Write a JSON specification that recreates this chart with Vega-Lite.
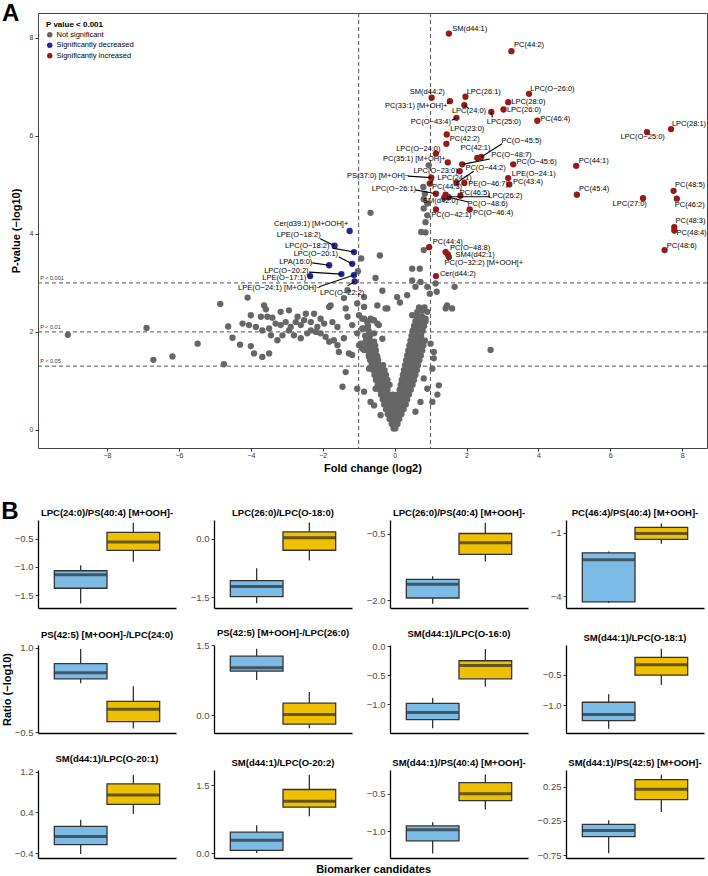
{
"$schema": "https://vega.github.io/schema/vega-lite/v6.json",
"background": "white",
"padding": {"left": 1, "top": 1, "right": 0, "bottom": 0},
"datasets": {
"thresholds": [{"label": "P < 0.001", "p": 3}, {"label": "P < 0.01", "p": 2}, {"label": "P < 0.05", "p": 1.301}],
"fcLines": [{"fc": -1}, {"fc": 1}],
"volcano": [
{"fc":-9.09,"p":1.94,"status":"Not significant"},{"fc":-6.90,"p":2.08,"status":"Not significant"},{"fc":-6.71,"p":1.43,"status":"Not significant"},{"fc":-6.18,"p":1.50,"status":"Not significant"},{"fc":-5.48,"p":1.76,"status":"Not significant"},{"fc":-4.75,"p":1.34,"status":"Not significant"},{"fc":-4.85,"p":2.57,"status":"Not significant"},{"fc":-4.63,"p":2.11,"status":"Not significant"},{"fc":-4.51,"p":1.88,"status":"Not significant"},{"fc":-4.30,"p":1.74,"status":"Not significant"},{"fc":-4.09,"p":2.70,"status":"Not significant"},
{"fc":-3.63,"p":2.54,"status":"Not significant"},{"fc":-3.58,"p":2.46,"status":"Not significant"},{"fc":-4.0,"p":2.34,"status":"Not significant"},{"fc":-3.72,"p":2.31,"status":"Not significant"},{"fc":-3.54,"p":2.31,"status":"Not significant"},{"fc":-3.40,"p":2.29,"status":"Not significant"},{"fc":-3.17,"p":2.41,"status":"Not significant"},{"fc":-2.94,"p":2.44,"status":"Not significant"},{"fc":-2.70,"p":2.31,"status":"Not significant"},{"fc":-2.47,"p":2.37,"status":"Not significant"},{"fc":-2.24,"p":2.37,"status":"Not significant"},{"fc":-2.06,"p":2.27,"status":"Not significant"},{"fc":-1.82,"p":2.51,"status":"Not significant"},{"fc":-1.78,"p":2.54,"status":"Not significant"},{"fc":-1.36,"p":2.48,"status":"Not significant"},{"fc":-1.31,"p":2.31,"status":"Not significant"},
{"fc":-4.23,"p":2.17,"status":"Not significant"},{"fc":-4.05,"p":2.14,"status":"Not significant"},{"fc":-3.86,"p":2.10,"status":"Not significant"},{"fc":-3.68,"p":2.03,"status":"Not significant"},{"fc":-3.49,"p":2.07,"status":"Not significant"},{"fc":-3.31,"p":2.17,"status":"Not significant"},{"fc":-3.17,"p":2.14,"status":"Not significant"},{"fc":-3.03,"p":2.20,"status":"Not significant"},{"fc":-2.89,"p":2.10,"status":"Not significant"},{"fc":-2.75,"p":2.20,"status":"Not significant"},{"fc":-2.61,"p":2.14,"status":"Not significant"},{"fc":-2.52,"p":2.24,"status":"Not significant"},{"fc":-2.33,"p":2.20,"status":"Not significant"},{"fc":-2.15,"p":2.10,"status":"Not significant"},{"fc":-1.96,"p":2.17,"status":"Not significant"},{"fc":-1.73,"p":2.20,"status":"Not significant"},{"fc":-1.59,"p":2.10,"status":"Not significant"},
{"fc":-4.0,"p":1.71,"status":"Not significant"},{"fc":-3.91,"p":1.56,"status":"Not significant"},{"fc":-3.68,"p":1.49,"status":"Not significant"},{"fc":-3.49,"p":1.56,"status":"Not significant"},{"fc":-3.44,"p":1.93,"status":"Not significant"},{"fc":-3.26,"p":1.83,"status":"Not significant"},{"fc":-3.12,"p":1.93,"status":"Not significant"},{"fc":-2.94,"p":2.03,"status":"Not significant"},{"fc":-2.80,"p":1.93,"status":"Not significant"},{"fc":-2.61,"p":1.87,"status":"Not significant"},{"fc":-2.43,"p":1.97,"status":"Not significant"},{"fc":-2.33,"p":2.03,"status":"Not significant"},{"fc":-2.19,"p":2.0,"status":"Not significant"},{"fc":-2.06,"p":1.97,"status":"Not significant"},{"fc":-1.92,"p":1.90,"status":"Not significant"},{"fc":-1.82,"p":1.80,"status":"Not significant"},{"fc":-1.69,"p":1.83,"status":"Not significant"},{"fc":-1.59,"p":1.73,"status":"Not significant"},{"fc":-1.55,"p":1.59,"status":"Not significant"},{"fc":-1.41,"p":1.87,"status":"Not significant"},{"fc":-1.27,"p":1.56,"status":"Not significant"},{"fc":-1.18,"p":1.53,"status":"Not significant"},{"fc":-1.45,"p":0.88,"status":"Not significant"},{"fc":-1.36,"p":1.18,"status":"Not significant"},
{"fc":-1.31,"p":2.85,"status":"Not significant"},{"fc":-1.41,"p":2.69,"status":"Not significant"},{"fc":-1.04,"p":2.58,"status":"Not significant"},{"fc":-0.99,"p":2.34,"status":"Not significant"},{"fc":-0.85,"p":2.27,"status":"Not significant"},{"fc":-1.18,"p":2.14,"status":"Not significant"},{"fc":-1.04,"p":1.97,"status":"Not significant"},{"fc":-0.85,"p":2.07,"status":"Not significant"},{"fc":-0.76,"p":2.20,"status":"Not significant"},{"fc":-0.57,"p":2.24,"status":"Not significant"},{"fc":-0.44,"p":2.14,"status":"Not significant"},{"fc":-0.94,"p":1.76,"status":"Not significant"},{"fc":-0.90,"p":1.66,"status":"Not significant"},{"fc":-0.71,"p":1.49,"status":"Not significant"},{"fc":-0.76,"p":1.83,"status":"Not significant"},{"fc":-0.57,"p":1.80,"status":"Not significant"},{"fc":-1.02,"p":3.24,"status":"Not significant"},{"fc":-0.85,"p":2.71,"status":"Not significant"},
{"fc":0.95,"p":5.40,"status":"Not significant"},{"fc":0.80,"p":4.96,"status":"Not significant"},{"fc":0.84,"p":4.82,"status":"Not significant"},{"fc":0.81,"p":4.71,"status":"Not significant"},{"fc":0.91,"p":4.62,"status":"Not significant"},{"fc":0.81,"p":4.52,"status":"Not significant"},{"fc":0.91,"p":4.38,"status":"Not significant"},{"fc":0.74,"p":4.04,"status":"Not significant"},{"fc":0.86,"p":4.03,"status":"Not significant"},{"fc":0.81,"p":3.67,"status":"Not significant"},{"fc":-0.67,"p":4.43,"status":"Not significant"},{"fc":0.86,"p":4.24,"status":"Not significant"},{"fc":-0.93,"p":3.50,"status":"Not significant"},{"fc":-0.41,"p":3.56,"status":"Not significant"},{"fc":-0.53,"p":3.10,"status":"Not significant"},{"fc":0.49,"p":3.29,"status":"Not significant"},{"fc":0.70,"p":3.29,"status":"Not significant"},{"fc":0.49,"p":3.05,"status":"Not significant"},{"fc":0.72,"p":3.02,"status":"Not significant"},{"fc":0.58,"p":2.92,"status":"Not significant"},{"fc":0.91,"p":2.92,"status":"Not significant"},{"fc":-0.34,"p":2.84,"status":"Not significant"},{"fc":0.07,"p":2.71,"status":"Not significant"},{"fc":0.35,"p":2.75,"status":"Not significant"},{"fc":1.14,"p":2.99,"status":"Not significant"},{"fc":1.17,"p":2.82,"status":"Not significant"},{"fc":0.98,"p":2.78,"status":"Not significant"},{"fc":1.67,"p":2.92,"status":"Not significant"},{"fc":1.46,"p":2.54,"status":"Not significant"},{"fc":1.60,"p":2.48,"status":"Not significant"},{"fc":1.42,"p":2.48,"status":"Not significant"},{"fc":2.67,"p":1.63,"status":"Not significant"},{"fc":0.49,"p":2.34,"status":"Not significant"},{"fc":0.63,"p":2.41,"status":"Not significant"},{"fc":0.77,"p":2.44,"status":"Not significant"},{"fc":0.91,"p":2.41,"status":"Not significant"},{"fc":0.86,"p":2.27,"status":"Not significant"},{"fc":1.09,"p":1.59,"status":"Not significant"},{"fc":1.09,"p":1.46,"status":"Not significant"},{"fc":1.0,"p":1.76,"status":"Not significant"},{"fc":1.05,"p":1.25,"status":"Not significant"},{"fc":1.23,"p":0.91,"status":"Not significant"},{"fc":0.81,"p":1.05,"status":"Not significant"},{"fc":0.91,"p":0.84,"status":"Not significant"},{"fc":0.72,"p":0.57,"status":"Not significant"},{"fc":0.58,"p":0.37,"status":"Not significant"},{"fc":-1.04,"p":0.84,"status":"Not significant"},{"fc":-0.85,"p":0.78,"status":"Not significant"},{"fc":-0.71,"p":1.25,"status":"Not significant"},{"fc":-0.57,"p":0.50,"status":"Not significant"},{"fc":-0.85,"p":2.51,"status":"Not significant"},{"fc":-0.90,"p":2.27,"status":"Not significant"},{"fc":-0.90,"p":2.07,"status":"Not significant"},{"fc":-0.62,"p":2.24,"status":"Not significant"},{"fc":-0.48,"p":2.17,"status":"Not significant"},{"fc":-0.99,"p":1.73,"status":"Not significant"},{"fc":-0.85,"p":1.63,"status":"Not significant"},{"fc":-0.2,"p":2.48,"status":"Not significant"},{"fc":0.15,"p":2.6,"status":"Not significant"},{"fc":-0.67,"p":2.27,"status":"Not significant"},{"fc":-0.48,"p":2.54,"status":"Not significant"},{"fc":-0.25,"p":2.48,"status":"Not significant"},{"fc":-0.57,"p":1.97,"status":"Not significant"},{"fc":-0.34,"p":1.86,"status":"Not significant"},{"fc":-0.71,"p":1.66,"status":"Not significant"},{"fc":-0.48,"p":1.49,"status":"Not significant"},{"fc":-0.67,"p":0.57,"status":"Not significant"},{"fc":-0.39,"p":0.30,"status":"Not significant"},{"fc":-0.53,"p":0.84,"status":"Not significant"},{"fc":1.19,"p":0.72,"status":"Not significant"},{"fc":1.05,"p":0.57,"status":"Not significant"},
{"fc":-0.03,"p":0.03,"status":"Not significant"},{"fc":0.02,"p":0.03,"status":"Not significant"},
{"fc":-0.08,"p":0.12,"status":"Not significant"},{"fc":0.0,"p":0.12,"status":"Not significant"},{"fc":0.08,"p":0.12,"status":"Not significant"},
{"fc":-0.14,"p":0.22,"status":"Not significant"},{"fc":-0.05,"p":0.22,"status":"Not significant"},{"fc":0.05,"p":0.22,"status":"Not significant"},{"fc":0.13,"p":0.22,"status":"Not significant"},
{"fc":-0.19,"p":0.32,"status":"Not significant"},{"fc":-0.09,"p":0.32,"status":"Not significant"},{"fc":0.01,"p":0.32,"status":"Not significant"},{"fc":0.1,"p":0.32,"status":"Not significant"},{"fc":0.19,"p":0.32,"status":"Not significant"},
{"fc":-0.24,"p":0.42,"status":"Not significant"},{"fc":-0.14,"p":0.42,"status":"Not significant"},{"fc":-0.04,"p":0.42,"status":"Not significant"},{"fc":0.06,"p":0.42,"status":"Not significant"},{"fc":0.16,"p":0.42,"status":"Not significant"},{"fc":0.25,"p":0.42,"status":"Not significant"},
{"fc":-0.29,"p":0.52,"status":"Not significant"},{"fc":-0.19,"p":0.52,"status":"Not significant"},{"fc":-0.08,"p":0.52,"status":"Not significant"},{"fc":0.03,"p":0.52,"status":"Not significant"},{"fc":0.13,"p":0.52,"status":"Not significant"},{"fc":0.23,"p":0.52,"status":"Not significant"},{"fc":0.31,"p":0.52,"status":"Not significant"},
{"fc":-0.33,"p":0.62,"status":"Not significant"},{"fc":-0.23,"p":0.62,"status":"Not significant"},{"fc":-0.12,"p":0.62,"status":"Not significant"},{"fc":0.0,"p":0.62,"status":"Not significant"},{"fc":0.12,"p":0.62,"status":"Not significant"},{"fc":0.24,"p":0.62,"status":"Not significant"},{"fc":0.35,"p":0.62,"status":"Not significant"},
{"fc":-0.38,"p":0.72,"status":"Not significant"},{"fc":-0.27,"p":0.72,"status":"Not significant"},{"fc":-0.16,"p":0.72,"status":"Not significant"},{"fc":-0.05,"p":0.72,"status":"Not significant"},{"fc":0.08,"p":0.72,"status":"Not significant"},{"fc":0.19,"p":0.72,"status":"Not significant"},{"fc":0.3,"p":0.72,"status":"Not significant"},{"fc":0.4,"p":0.72,"status":"Not significant"},
{"fc":-0.42,"p":0.82,"status":"Not significant"},{"fc":-0.31,"p":0.82,"status":"Not significant"},{"fc":-0.2,"p":0.82,"status":"Not significant"},{"fc":0.14,"p":0.82,"status":"Not significant"},{"fc":0.25,"p":0.82,"status":"Not significant"},{"fc":0.35,"p":0.82,"status":"Not significant"},{"fc":0.45,"p":0.82,"status":"Not significant"},
{"fc":-0.47,"p":0.92,"status":"Not significant"},{"fc":-0.36,"p":0.92,"status":"Not significant"},{"fc":-0.25,"p":0.92,"status":"Not significant"},{"fc":-0.14,"p":0.92,"status":"Not significant"},{"fc":0.17,"p":0.92,"status":"Not significant"},{"fc":0.28,"p":0.92,"status":"Not significant"},{"fc":0.39,"p":0.92,"status":"Not significant"},{"fc":0.5,"p":0.92,"status":"Not significant"},
{"fc":-0.52,"p":1.02,"status":"Not significant"},{"fc":-0.41,"p":1.02,"status":"Not significant"},{"fc":-0.3,"p":1.02,"status":"Not significant"},{"fc":-0.2,"p":1.02,"status":"Not significant"},{"fc":0.2,"p":1.02,"status":"Not significant"},{"fc":0.31,"p":1.02,"status":"Not significant"},{"fc":0.42,"p":1.02,"status":"Not significant"},{"fc":0.54,"p":1.02,"status":"Not significant"},
{"fc":-0.56,"p":1.12,"status":"Not significant"},{"fc":-0.45,"p":1.12,"status":"Not significant"},{"fc":-0.34,"p":1.12,"status":"Not significant"},{"fc":-0.24,"p":1.12,"status":"Not significant"},{"fc":0.23,"p":1.12,"status":"Not significant"},{"fc":0.34,"p":1.12,"status":"Not significant"},{"fc":0.46,"p":1.12,"status":"Not significant"},{"fc":0.58,"p":1.12,"status":"Not significant"},
{"fc":-0.6,"p":1.22,"status":"Not significant"},{"fc":-0.49,"p":1.22,"status":"Not significant"},{"fc":-0.38,"p":1.22,"status":"Not significant"},{"fc":-0.28,"p":1.22,"status":"Not significant"},{"fc":0.26,"p":1.22,"status":"Not significant"},{"fc":0.37,"p":1.22,"status":"Not significant"},{"fc":0.49,"p":1.22,"status":"Not significant"},{"fc":0.62,"p":1.22,"status":"Not significant"},
{"fc":-0.64,"p":1.32,"status":"Not significant"},{"fc":-0.53,"p":1.32,"status":"Not significant"},{"fc":-0.42,"p":1.32,"status":"Not significant"},{"fc":-0.32,"p":1.32,"status":"Not significant"},{"fc":0.29,"p":1.32,"status":"Not significant"},{"fc":0.4,"p":1.32,"status":"Not significant"},{"fc":0.52,"p":1.32,"status":"Not significant"},{"fc":0.65,"p":1.32,"status":"Not significant"},
{"fc":-0.68,"p":1.42,"status":"Not significant"},{"fc":-0.57,"p":1.42,"status":"Not significant"},{"fc":-0.46,"p":1.42,"status":"Not significant"},{"fc":0.32,"p":1.42,"status":"Not significant"},{"fc":0.44,"p":1.42,"status":"Not significant"},{"fc":0.56,"p":1.42,"status":"Not significant"},{"fc":0.69,"p":1.42,"status":"Not significant"},
{"fc":-0.72,"p":1.52,"status":"Not significant"},{"fc":-0.61,"p":1.52,"status":"Not significant"},{"fc":-0.5,"p":1.52,"status":"Not significant"},{"fc":0.35,"p":1.52,"status":"Not significant"},{"fc":0.47,"p":1.52,"status":"Not significant"},{"fc":0.6,"p":1.52,"status":"Not significant"},{"fc":0.73,"p":1.52,"status":"Not significant"},
{"fc":-0.75,"p":1.62,"status":"Not significant"},{"fc":-0.64,"p":1.62,"status":"Not significant"},{"fc":-0.52,"p":1.62,"status":"Not significant"},{"fc":0.38,"p":1.62,"status":"Not significant"},{"fc":0.51,"p":1.62,"status":"Not significant"},{"fc":0.64,"p":1.62,"status":"Not significant"},{"fc":0.77,"p":1.62,"status":"Not significant"},
{"fc":-0.78,"p":1.72,"status":"Not significant"},{"fc":-0.66,"p":1.72,"status":"Not significant"},{"fc":-0.54,"p":1.72,"status":"Not significant"},{"fc":0.41,"p":1.72,"status":"Not significant"},{"fc":0.54,"p":1.72,"status":"Not significant"},{"fc":0.67,"p":1.72,"status":"Not significant"},{"fc":0.8,"p":1.72,"status":"Not significant"},
{"fc":-0.8,"p":1.82,"status":"Not significant"},{"fc":-0.68,"p":1.82,"status":"Not significant"},{"fc":0.44,"p":1.82,"status":"Not significant"},{"fc":0.57,"p":1.82,"status":"Not significant"},{"fc":0.7,"p":1.82,"status":"Not significant"},{"fc":0.84,"p":1.82,"status":"Not significant"},
{"fc":-0.82,"p":1.92,"status":"Not significant"},{"fc":-0.69,"p":1.92,"status":"Not significant"},{"fc":0.47,"p":1.92,"status":"Not significant"},{"fc":0.6,"p":1.92,"status":"Not significant"},{"fc":0.74,"p":1.92,"status":"Not significant"},
{"fc":-0.72,"p":2.02,"status":"Not significant"},{"fc":0.5,"p":2.02,"status":"Not significant"},{"fc":0.63,"p":2.02,"status":"Not significant"},{"fc":0.78,"p":2.02,"status":"Not significant"},
{"fc":-0.74,"p":2.12,"status":"Not significant"},{"fc":0.54,"p":2.12,"status":"Not significant"},{"fc":0.67,"p":2.12,"status":"Not significant"},{"fc":0.82,"p":2.12,"status":"Not significant"},
{"fc":0.58,"p":2.22,"status":"Not significant"},{"fc":0.71,"p":2.22,"status":"Not significant"},{"fc":0.86,"p":2.22,"status":"Not significant"},
{"fc":0.62,"p":2.32,"status":"Not significant"},{"fc":0.76,"p":2.32,"status":"Not significant"},
{"fc":0.68,"p":2.5,"status":"Not significant"},{"fc":0.83,"p":2.5,"status":"Not significant"},
{"name":"SM(d44:1)","fc":1.51,"p":8.09,"lx":2.09,"ly":8.18,"status":"Significantly increased"},
{"name":"PC(44:2)","fc":3.25,"p":7.73,"lx":3.74,"ly":7.85,"status":"Significantly increased"},
{"name":"SM(d44:2)","fc":1.03,"p":6.78,"lx":0.91,"ly":6.90,"status":"Significantly increased"},
{"name":"LPC(26:1)","fc":1.97,"p":6.80,"lx":2.48,"ly":6.90,"status":"Significantly increased"},
{"name":"LPC(O−26:0)","fc":3.74,"p":6.86,"lx":4.39,"ly":6.96,"status":"Significantly increased"},
{"name":"PC(33:1) [M+OH]+","fc":1.54,"p":6.71,"lx":0.60,"ly":6.61,"sx":1.46,"sy":6.66,"status":"Significantly increased"},
{"name":"LPC(28:0)","fc":3.16,"p":6.69,"lx":3.72,"ly":6.69,"status":"Significantly increased"},
{"name":"LPC(24:0)","fc":1.94,"p":6.63,"lx":2.07,"ly":6.50,"sx":2.06,"sy":6.56,"status":"Significantly increased"},
{"name":"LPC(26:0)","fc":3.03,"p":6.54,"lx":3.60,"ly":6.54,"status":"Significantly increased"},
{"name":"LPC(25:0)","fc":2.69,"p":6.49,"lx":3.04,"ly":6.29,"sx":2.72,"sy":6.38,"status":"Significantly increased"},
{"name":"PC(O−43:4)","fc":1.72,"p":6.37,"lx":1.01,"ly":6.29,"sx":1.59,"sy":6.32,"status":"Significantly increased"},
{"name":"PC(46:4)","fc":3.97,"p":6.31,"lx":4.47,"ly":6.34,"status":"Significantly increased"},
{"name":"LPC(23:0)","fc":1.45,"p":6.03,"lx":2.02,"ly":6.14,"status":"Significantly increased"},
{"name":"PC(42:2)","fc":1.44,"p":5.84,"lx":1.95,"ly":5.93,"status":"Significantly increased"},
{"name":"LPC(O−24:0)","fc":1.15,"p":5.64,"lx":0.66,"ly":5.74,"status":"Significantly increased"},
{"name":"PC(42:1)","fc":2.30,"p":5.55,"lx":2.25,"ly":5.76,"status":"Significantly increased"},
{"name":"PC(O−45:5)","fc":2.41,"p":5.57,"lx":3.53,"ly":5.89,"sx":2.99,"sy":5.84,"status":"Significantly increased"},
{"name":"PC(35:1) [M+OH]+","fc":1.48,"p":5.46,"lx":0.55,"ly":5.52,"status":"Significantly increased"},
{"name":"PC(O−48:7)","fc":1.88,"p":5.42,"lx":3.25,"ly":5.62,"sx":2.65,"sy":5.53,"status":"Significantly increased"},
{"name":"PC(O−45:6)","fc":3.30,"p":5.42,"lx":3.95,"ly":5.46,"status":"Significantly increased"},
{"name":"PC(44:1)","fc":5.05,"p":5.39,"lx":5.54,"ly":5.48,"status":"Significantly increased"},
{"name":"LPC(O−23:0)","fc":1.81,"p":5.28,"lx":1.14,"ly":5.28,"status":"Significantly increased"},
{"name":"PC(O−44:2)","fc":1.72,"p":5.04,"lx":2.53,"ly":5.34,"sx":2.20,"sy":5.28,"status":"Significantly increased"},
{"name":"PS(37:0) [M+OH]−","fc":1.02,"p":5.15,"lx":-0.46,"ly":5.19,"sx":0.37,"sy":5.18,"status":"Significantly increased"},
{"name":"LPE(O−24:1)","fc":3.16,"p":5.14,"lx":3.87,"ly":5.22,"status":"Significantly increased"},
{"name":"LPC(24:1)","fc":0.98,"p":5.03,"lx":1.67,"ly":5.15,"sx":1.08,"sy":5.10,"status":"Significantly increased"},
{"name":"PE(O−46:7)","fc":1.94,"p":5.04,"lx":2.60,"ly":5.01,"status":"Significantly increased"},
{"name":"PC(43:4)","fc":3.19,"p":5.01,"lx":3.71,"ly":5.05,"status":"Significantly increased"},
{"name":"PC(45:4)","fc":5.07,"p":4.80,"lx":5.55,"ly":4.91,"status":"Significantly increased"},
{"name":"PC(48:5)","fc":7.76,"p":4.88,"lx":8.22,"ly":4.99,"status":"Significantly increased"},
{"name":"LPC(27:0)","fc":6.91,"p":4.73,"lx":6.54,"ly":4.61,"status":"Significantly increased"},
{"name":"PC(46:2)","fc":7.85,"p":4.72,"lx":8.21,"ly":4.59,"status":"Significantly increased"},
{"name":"LPC(O−26:1)","fc":1.15,"p":4.82,"lx":-0.02,"ly":4.91,"sx":0.58,"sy":4.90,"status":"Significantly increased"},
{"name":"PC(44:3)","fc":1.42,"p":4.80,"lx":1.46,"ly":4.96,"status":"Significantly increased"},
{"name":"PC(46:5)","fc":1.83,"p":4.78,"lx":2.23,"ly":4.84,"status":"Significantly increased"},
{"name":"LPC(26:2)","fc":1.46,"p":4.76,"lx":3.08,"ly":4.77,"sx":2.65,"sy":4.76,"status":"Significantly increased"},
{"name":"SM(d42:0)","fc":1.38,"p":4.74,"lx":1.28,"ly":4.67,"status":"Significantly increased"},
{"name":"PC(O−48:6)","fc":1.50,"p":4.75,"lx":2.59,"ly":4.62,"sx":2.05,"sy":4.65,"status":"Significantly increased"},
{"name":"PC(O−42:1)","fc":1.15,"p":4.50,"lx":1.58,"ly":4.38,"status":"Significantly increased"},
{"name":"PC(O−46:4)","fc":2.09,"p":4.50,"lx":2.74,"ly":4.43,"status":"Significantly increased"},
{"name":"PC(48:3)","fc":7.78,"p":4.14,"lx":8.23,"ly":4.26,"status":"Significantly increased"},
{"name":"PC(48:4)","fc":7.78,"p":4.07,"lx":8.26,"ly":4.01,"status":"Significantly increased"},
{"name":"PC(48:6)","fc":7.51,"p":3.67,"lx":7.99,"ly":3.75,"status":"Significantly increased"},
{"name":"LPC(28:1)","fc":7.69,"p":6.14,"lx":8.19,"ly":6.24,"status":"Significantly increased"},
{"name":"LPC(O−25:0)","fc":7.02,"p":6.08,"lx":6.90,"ly":5.97,"status":"Significantly increased"},
{"name":"PC(44:4)","fc":0.96,"p":3.73,"lx":1.48,"ly":3.84,"status":"Significantly increased"},
{"name":"PC(O−48:8)","fc":1.42,"p":3.63,"lx":2.10,"ly":3.71,"status":"Significantly increased"},
{"name":"SM4(d42:1)","fc":1.48,"p":3.58,"lx":2.24,"ly":3.58,"status":"Significantly increased"},
{"name":"PC(O−32:2) [M+OOH]+","fc":1.51,"p":3.53,"lx":2.48,"ly":3.41,"status":"Significantly increased"},
{"name":"Cer(d44:2)","fc":1.15,"p":3.14,"lx":1.76,"ly":3.19,"status":"Significantly increased"},
{"name":"Cer(d39:1) [M+OOH]+","fc":-1.25,"p":4.06,"lx":-2.32,"ly":4.20,"status":"Significantly decreased"},
{"name":"LPE(O−18:2)","fc":-1.67,"p":3.76,"lx":-2.67,"ly":3.97,"sx":-2.07,"sy":3.90,"status":"Significantly decreased"},
{"name":"LPC(O−18:2)","fc":-1.13,"p":3.63,"lx":-2.43,"ly":3.76,"sx":-1.73,"sy":3.71,"status":"Significantly decreased"},
{"name":"LPC(O−20:1)","fc":-1.18,"p":3.39,"lx":-2.19,"ly":3.60,"sx":-1.55,"sy":3.53,"status":"Significantly decreased"},
{"name":"LPA(16:0)","fc":-1.82,"p":3.36,"lx":-2.75,"ly":3.43,"sx":-2.29,"sy":3.41,"status":"Significantly decreased"},
{"name":"LPC(O−20:2)","fc":-1.48,"p":3.18,"lx":-3.01,"ly":3.24,"sx":-2.38,"sy":3.22,"status":"Significantly decreased"},
{"name":"LPE(O−17:1)","fc":-2.35,"p":3.14,"lx":-3.07,"ly":3.10,"status":"Significantly decreased"},
{"name":"LPE(O−24:1) [M+OOH]−","fc":-1.13,"p":3.16,"lx":-3.21,"ly":2.90,"sx":-2.10,"sy":2.92,"status":"Significantly decreased"},
{"name":"LPC(O−22:2)","fc":-1.11,"p":3.03,"lx":-1.46,"ly":2.80,"sx":-1.31,"sy":2.94,"status":"Significantly decreased"}
],
"boxes": [
{"panel":"LPC(24:0)/PS(40:4) [M+OOH]-","group":"G1","lower":-1.65,"q1":-1.38,"median":-1.14,"q3":-1.07,"upper":-0.97},
{"panel":"LPC(24:0)/PS(40:4) [M+OOH]-","group":"G2","lower":-0.91,"q1":-0.71,"median":-0.56,"q3":-0.39,"upper":-0.22},
{"panel":"LPC(26:0)/LPC(O-18:0)","group":"G1","lower":-1.66,"q1":-1.49,"median":-1.23,"q3":-1.08,"upper":-0.76},
{"panel":"LPC(26:0)/LPC(O-18:0)","group":"G2","lower":-0.56,"q1":-0.30,"median":0.02,"q3":0.17,"upper":0.41},
{"panel":"LPC(26:0)/PS(40:4) [M+OOH]-","group":"G1","lower":-2.08,"q1":-1.95,"median":-1.64,"q3":-1.53,"upper":-1.46},
{"panel":"LPC(26:0)/PS(40:4) [M+OOH]-","group":"G2","lower":-1.13,"q1":-0.97,"median":-0.71,"q3":-0.50,"upper":-0.26},
{"panel":"PC(46:4)/PS(40:4) [M+OOH]-","group":"G1","lower":-4.32,"q1":-4.27,"median":-2.28,"q3":-1.96,"upper":-1.89},
{"panel":"PC(46:4)/PS(40:4) [M+OOH]-","group":"G2","lower":-1.53,"q1":-1.32,"median":-1.05,"q3":-0.76,"upper":-0.57},
{"panel":"PS(42:5) [M+OOH]-/LPC(24:0)","group":"G1","lower":0.37,"q1":0.45,"median":0.56,"q3":0.72,"upper":0.98},
{"panel":"PS(42:5) [M+OOH]-/LPC(24:0)","group":"G2","lower":-0.43,"q1":-0.31,"median":-0.09,"q3":0.05,"upper":0.32},
{"panel":"PS(42:5) [M+OOH]-/LPC(26:0)","group":"G1","lower":0.76,"q1":0.95,"median":1.02,"q3":1.27,"upper":1.43},
{"panel":"PS(42:5) [M+OOH]-/LPC(26:0)","group":"G2","lower":-0.28,"q1":-0.19,"median":0.02,"q3":0.26,"upper":0.50},
{"panel":"SM(d44:1)/LPC(O-16:0)","group":"G1","lower":-1.41,"q1":-1.26,"median":-1.14,"q3":-0.98,"upper":-0.89},
{"panel":"SM(d44:1)/LPC(O-16:0)","group":"G2","lower":-0.69,"q1":-0.56,"median":-0.33,"q3":-0.25,"upper":-0.05},
{"panel":"SM(d44:1)/LPC(O-18:1)","group":"G1","lower":-1.38,"q1":-1.25,"median":-1.15,"q3":-0.95,"upper":-0.82},
{"panel":"SM(d44:1)/LPC(O-18:1)","group":"G2","lower":-0.67,"q1":-0.51,"median":-0.34,"q3":-0.22,"upper":-0.08},
{"panel":"SM(d44:1)/LPC(O-20:1)","group":"G1","lower":-0.41,"q1":-0.23,"median":-0.07,"q3":0.13,"upper":0.26},
{"panel":"SM(d44:1)/LPC(O-20:1)","group":"G2","lower":0.37,"q1":0.56,"median":0.74,"q3":0.96,"upper":1.13},
{"panel":"SM(d44:1)/LPC(O-20:2)","group":"G1","lower":0.01,"q1":0.07,"median":0.29,"q3":0.47,"upper":0.62},
{"panel":"SM(d44:1)/LPC(O-20:2)","group":"G2","lower":0.82,"q1":1.02,"median":1.15,"q3":1.41,"upper":1.73},
{"panel":"SM(d44:1)/PS(40:4) [M+OOH]-","group":"G1","lower":-1.30,"q1":-1.13,"median":-0.98,"q3":-0.93,"upper":-0.88},
{"panel":"SM(d44:1)/PS(40:4) [M+OOH]-","group":"G2","lower":-0.71,"q1":-0.59,"median":-0.50,"q3":-0.35,"upper":-0.24},
{"panel":"SM(d44:1)/PS(42:5) [M+OOH]-","group":"G1","lower":-0.72,"q1":-0.48,"median":-0.39,"q3":-0.30,"upper":-0.24},
{"panel":"SM(d44:1)/PS(42:5) [M+OOH]-","group":"G2","lower":-0.12,"q1":0.06,"median":0.21,"q3":0.35,"upper":0.42}
]
},
"concat": [
{
"width": 669, "height": 435,
"title": {"text": "A", "anchor": "start", "frame": "bounds", "fontSize": 24, "fontWeight": "bold", "dx": -8, "offset": -13},
"view": {"stroke": "#444444", "strokeWidth": 1},
"layer": [
{"data": {"name": "thresholds"}, "mark": {"type": "rule", "strokeDash": [4, 3], "color": "#555555", "strokeWidth": 1},
 "encoding": {"y": {"field": "p", "type": "quantitative"}}},
{"data": {"name": "thresholds"}, "mark": {"type": "text", "align": "left", "baseline": "bottom", "dy": -2, "fontSize": 5.5, "color": "#333333"},
 "encoding": {"x": {"datum": -9.86, "type": "quantitative"}, "y": {"field": "p", "type": "quantitative"}, "text": {"field": "label"}}},
{"data": {"name": "fcLines"}, "mark": {"type": "rule", "strokeDash": [4, 3], "color": "#555555", "strokeWidth": 1},
 "encoding": {"x": {"field": "fc", "type": "quantitative"}}},
{"data": {"name": "volcano"}, "mark": {"type": "circle", "size": 40, "opacity": 1},
 "encoding": {
  "x": {"field": "fc", "type": "quantitative", "scale": {"domain": [-9.92, 8.69], "nice": false, "zero": false},
        "axis": {"values": [-8, -6, -4, -2, 0, 2, 4, 6, 8], "title": "Fold change (log2)", "titleFontSize": 11, "labelFontSize": 7, "labelColor": "#333333", "tickColor": "#333333", "tickSize": 3, "domain": false, "titlePadding": 4, "labelPadding": 0}},
  "y": {"field": "p", "type": "quantitative", "scale": {"domain": [-0.37, 8.51], "nice": false, "zero": false},
        "axis": {"values": [0, 2, 4, 6, 8], "title": "P-value (−log10)", "titleFontSize": 11, "labelFontSize": 7, "labelColor": "#333333", "tickColor": "#333333", "tickSize": 3, "domain": false, "titlePadding": 8, "labelPadding": 2}},
  "color": {"field": "status", "type": "nominal",
            "scale": {"domain": ["Not significant", "Significantly decreased", "Significantly increased"], "range": ["#666666", "#26268c", "#951b1b"]},
            "legend": {"title": "P value < 0.001", "orient": "top-left", "offset": 8, "padding": 0, "titleFontSize": 8, "titleFontWeight": "bold", "titleColor": "black", "titlePadding": 2, "labelFontSize": 7.5, "labelColor": "black", "labelOffset": 3, "symbolType": "circle", "symbolSize": 30, "rowPadding": 1.5, "symbolStrokeWidth": 0}}
 }},
{"data": {"name": "volcano"}, "transform": [{"filter": "isValid(datum.sx)"}], "mark": {"type": "rule", "color": "black", "strokeWidth": 1.1},
 "encoding": {"x": {"field": "fc", "type": "quantitative"}, "y": {"field": "p", "type": "quantitative"}, "x2": {"field": "sx"}, "y2": {"field": "sy"}}},
{"data": {"name": "volcano"}, "transform": [{"filter": "isValid(datum.name)"}], "mark": {"type": "text", "fontSize": 7.5, "align": "center", "baseline": "middle", "color": "black"},
 "encoding": {"x": {"field": "lx", "type": "quantitative"}, "y": {"field": "ly", "type": "quantitative"}, "text": {"field": "name"}}}
]
},
{
"title": {"text": "B", "anchor": "start", "frame": "bounds", "fontSize": 24, "fontWeight": "bold", "dx": 0, "offset": -16},
"vconcat": [
{
"title": {"text": "Biomarker candidates", "orient": "bottom", "anchor": "middle", "frame": "bounds", "fontSize": 11, "fontWeight": "bold", "offset": 4, "dx": 21},
"columns": 4,
"bounds": "flush",
"spacing": {"row": 37, "column": 38},
"concat": [
{"title": "LPC(24:0)/PS(40:4) [M+OOH]-", "width": 138, "height": 88, "data": {"name": "boxes"}, "transform": [{"filter": "datum.panel === 'LPC(24:0)/PS(40:4) [M+OOH]-'"}],
 "encoding": {"x": {"field": "group", "type": "nominal", "sort": ["G1", "G2"], "scale": {"paddingInner": 0, "paddingOuter": 0.31}, "axis": {"title": null, "labels": false, "ticks": false}}},
 "layer": [
  {"mark": {"type": "rule", "color": "#333333", "strokeWidth": 1.3}, "encoding": {"y": {"field": "lower", "type": "quantitative", "scale": {"domain": [-1.73, -0.17], "nice": false, "zero": false}, "axis": {"values": [-1.5, -1.0, -0.5], "format": ".1f", "title": null}}, "y2": {"field": "upper"}}},
  {"mark": {"type": "bar", "stroke": "#333333", "strokeWidth": 1.3}, "encoding": {"y": {"field": "q1", "type": "quantitative"}, "y2": {"field": "q3"}, "color": {"field": "group", "type": "nominal", "scale": {"domain": ["G1", "G2"], "range": ["#7cbbe6", "#efc000"]}, "legend": null}}},
  {"mark": {"type": "tick", "color": "#2a2a2a", "thickness": 3, "size": 52}, "encoding": {"y": {"field": "median", "type": "quantitative"}}}
 ]},
{"title": "LPC(26:0)/LPC(O-18:0)", "width": 138, "height": 88, "data": {"name": "boxes"}, "transform": [{"filter": "datum.panel === 'LPC(26:0)/LPC(O-18:0)'"}],
 "encoding": {"x": {"field": "group", "type": "nominal", "sort": ["G1", "G2"], "scale": {"paddingInner": 0, "paddingOuter": 0.31}, "axis": {"title": null, "labels": false, "ticks": false}}},
 "layer": [
  {"mark": {"type": "rule", "color": "#333333", "strokeWidth": 1.3}, "encoding": {"y": {"field": "lower", "type": "quantitative", "scale": {"domain": [-1.78, 0.475], "nice": false, "zero": false}, "axis": {"values": [-1.5, -1.0, -0.5, 0.0, 0.5], "format": ".1f", "title": null}}, "y2": {"field": "upper"}}},
  {"mark": {"type": "bar", "stroke": "#333333", "strokeWidth": 1.3}, "encoding": {"y": {"field": "q1", "type": "quantitative"}, "y2": {"field": "q3"}, "color": {"field": "group", "type": "nominal", "scale": {"domain": ["G1", "G2"], "range": ["#7cbbe6", "#efc000"]}, "legend": null}}},
  {"mark": {"type": "tick", "color": "#2a2a2a", "thickness": 3, "size": 52}, "encoding": {"y": {"field": "median", "type": "quantitative"}}}
 ]},
{"title": "LPC(26:0)/PS(40:4) [M+OOH]-", "width": 138, "height": 88, "data": {"name": "boxes"}, "transform": [{"filter": "datum.panel === 'LPC(26:0)/PS(40:4) [M+OOH]-'"}],
 "encoding": {"x": {"field": "group", "type": "nominal", "sort": ["G1", "G2"], "scale": {"paddingInner": 0, "paddingOuter": 0.31}, "axis": {"title": null, "labels": false, "ticks": false}}},
 "layer": [
  {"mark": {"type": "rule", "color": "#333333", "strokeWidth": 1.3}, "encoding": {"y": {"field": "lower", "type": "quantitative", "scale": {"domain": [-2.175, -0.196], "nice": false, "zero": false}, "axis": {"values": [-2.0, -1.5, -1.0, -0.5], "format": ".1f", "title": null}}, "y2": {"field": "upper"}}},
  {"mark": {"type": "bar", "stroke": "#333333", "strokeWidth": 1.3}, "encoding": {"y": {"field": "q1", "type": "quantitative"}, "y2": {"field": "q3"}, "color": {"field": "group", "type": "nominal", "scale": {"domain": ["G1", "G2"], "range": ["#7cbbe6", "#efc000"]}, "legend": null}}},
  {"mark": {"type": "tick", "color": "#2a2a2a", "thickness": 3, "size": 52}, "encoding": {"y": {"field": "median", "type": "quantitative"}}}
 ]},
{"title": "PC(46:4)/PS(40:4) [M+OOH]-", "width": 138, "height": 88, "data": {"name": "boxes"}, "transform": [{"filter": "datum.panel === 'PC(46:4)/PS(40:4) [M+OOH]-'"}],
 "encoding": {"x": {"field": "group", "type": "nominal", "sort": ["G1", "G2"], "scale": {"paddingInner": 0, "paddingOuter": 0.31}, "axis": {"title": null, "labels": false, "ticks": false}}},
 "layer": [
  {"mark": {"type": "rule", "color": "#333333", "strokeWidth": 1.3}, "encoding": {"y": {"field": "lower", "type": "quantitative", "scale": {"domain": [-4.56, -0.41], "nice": false, "zero": false}, "axis": {"values": [-4, -3, -2, -1], "format": "d", "title": null}}, "y2": {"field": "upper"}}},
  {"mark": {"type": "bar", "stroke": "#333333", "strokeWidth": 1.3}, "encoding": {"y": {"field": "q1", "type": "quantitative"}, "y2": {"field": "q3"}, "color": {"field": "group", "type": "nominal", "scale": {"domain": ["G1", "G2"], "range": ["#7cbbe6", "#efc000"]}, "legend": null}}},
  {"mark": {"type": "tick", "color": "#2a2a2a", "thickness": 3, "size": 52}, "encoding": {"y": {"field": "median", "type": "quantitative"}}}
 ]},
{"title": "PS(42:5) [M+OOH]-/LPC(24:0)", "width": 138, "height": 88, "data": {"name": "boxes"}, "transform": [{"filter": "datum.panel === 'PS(42:5) [M+OOH]-/LPC(24:0)'"}],
 "encoding": {"x": {"field": "group", "type": "nominal", "sort": ["G1", "G2"], "scale": {"paddingInner": 0, "paddingOuter": 0.31}, "axis": {"title": null, "labels": false, "ticks": false}}},
 "layer": [
  {"mark": {"type": "rule", "color": "#333333", "strokeWidth": 1.3}, "encoding": {"y": {"field": "lower", "type": "quantitative", "scale": {"domain": [-0.51, 1.05], "nice": false, "zero": false}, "axis": {"values": [-0.5, 0.0, 0.5, 1.0], "format": ".1f", "title": "Ratio (−log10)", "titleFontSize": 11, "titlePadding": 2}}, "y2": {"field": "upper"}}},
  {"mark": {"type": "bar", "stroke": "#333333", "strokeWidth": 1.3}, "encoding": {"y": {"field": "q1", "type": "quantitative"}, "y2": {"field": "q3"}, "color": {"field": "group", "type": "nominal", "scale": {"domain": ["G1", "G2"], "range": ["#7cbbe6", "#efc000"]}, "legend": null}}},
  {"mark": {"type": "tick", "color": "#2a2a2a", "thickness": 3, "size": 52}, "encoding": {"y": {"field": "median", "type": "quantitative"}}}
 ]},
{"title": "PS(42:5) [M+OOH]-/LPC(26:0)", "width": 138, "height": 88, "data": {"name": "boxes"}, "transform": [{"filter": "datum.panel === 'PS(42:5) [M+OOH]-/LPC(26:0)'"}],
 "encoding": {"x": {"field": "group", "type": "nominal", "sort": ["G1", "G2"], "scale": {"paddingInner": 0, "paddingOuter": 0.31}, "axis": {"title": null, "labels": false, "ticks": false}}},
 "layer": [
  {"mark": {"type": "rule", "color": "#333333", "strokeWidth": 1.3}, "encoding": {"y": {"field": "lower", "type": "quantitative", "scale": {"domain": [-0.38, 1.51], "nice": false, "zero": false}, "axis": {"values": [0.0, 0.5, 1.0, 1.5], "format": ".1f", "title": null}}, "y2": {"field": "upper"}}},
  {"mark": {"type": "bar", "stroke": "#333333", "strokeWidth": 1.3}, "encoding": {"y": {"field": "q1", "type": "quantitative"}, "y2": {"field": "q3"}, "color": {"field": "group", "type": "nominal", "scale": {"domain": ["G1", "G2"], "range": ["#7cbbe6", "#efc000"]}, "legend": null}}},
  {"mark": {"type": "tick", "color": "#2a2a2a", "thickness": 3, "size": 52}, "encoding": {"y": {"field": "median", "type": "quantitative"}}}
 ]},
{"title": "SM(d44:1)/LPC(O-16:0)", "width": 138, "height": 88, "data": {"name": "boxes"}, "transform": [{"filter": "datum.panel === 'SM(d44:1)/LPC(O-16:0)'"}],
 "encoding": {"x": {"field": "group", "type": "nominal", "sort": ["G1", "G2"], "scale": {"paddingInner": 0, "paddingOuter": 0.31}, "axis": {"title": null, "labels": false, "ticks": false}}},
 "layer": [
  {"mark": {"type": "rule", "color": "#333333", "strokeWidth": 1.3}, "encoding": {"y": {"field": "lower", "type": "quantitative", "scale": {"domain": [-1.49, 0.02], "nice": false, "zero": false}, "axis": {"values": [-1.0, -0.5, 0.0], "format": ".1f", "title": null}}, "y2": {"field": "upper"}}},
  {"mark": {"type": "bar", "stroke": "#333333", "strokeWidth": 1.3}, "encoding": {"y": {"field": "q1", "type": "quantitative"}, "y2": {"field": "q3"}, "color": {"field": "group", "type": "nominal", "scale": {"domain": ["G1", "G2"], "range": ["#7cbbe6", "#efc000"]}, "legend": null}}},
  {"mark": {"type": "tick", "color": "#2a2a2a", "thickness": 3, "size": 52}, "encoding": {"y": {"field": "median", "type": "quantitative"}}}
 ]},
{"title": "SM(d44:1)/LPC(O-18:1)", "width": 138, "height": 88, "data": {"name": "boxes"}, "transform": [{"filter": "datum.panel === 'SM(d44:1)/LPC(O-18:1)'"}],
 "encoding": {"x": {"field": "group", "type": "nominal", "sort": ["G1", "G2"], "scale": {"paddingInner": 0, "paddingOuter": 0.31}, "axis": {"title": null, "labels": false, "ticks": false}}},
 "layer": [
  {"mark": {"type": "rule", "color": "#333333", "strokeWidth": 1.3}, "encoding": {"y": {"field": "lower", "type": "quantitative", "scale": {"domain": [-1.45, -0.02], "nice": false, "zero": false}, "axis": {"values": [-1.0, -0.5], "format": ".1f", "title": null}}, "y2": {"field": "upper"}}},
  {"mark": {"type": "bar", "stroke": "#333333", "strokeWidth": 1.3}, "encoding": {"y": {"field": "q1", "type": "quantitative"}, "y2": {"field": "q3"}, "color": {"field": "group", "type": "nominal", "scale": {"domain": ["G1", "G2"], "range": ["#7cbbe6", "#efc000"]}, "legend": null}}},
  {"mark": {"type": "tick", "color": "#2a2a2a", "thickness": 3, "size": 52}, "encoding": {"y": {"field": "median", "type": "quantitative"}}}
 ]},
{"title": "SM(d44:1)/LPC(O-20:1)", "width": 138, "height": 88, "data": {"name": "boxes"}, "transform": [{"filter": "datum.panel === 'SM(d44:1)/LPC(O-20:1)'"}],
 "encoding": {"x": {"field": "group", "type": "nominal", "sort": ["G1", "G2"], "scale": {"paddingInner": 0, "paddingOuter": 0.31}, "axis": {"title": null, "labels": false, "ticks": false}}},
 "layer": [
  {"mark": {"type": "rule", "color": "#333333", "strokeWidth": 1.3}, "encoding": {"y": {"field": "lower", "type": "quantitative", "scale": {"domain": [-0.49, 1.23], "nice": false, "zero": false}, "axis": {"values": [-0.4, 0.0, 0.4, 0.8, 1.2], "format": ".1f", "title": null}}, "y2": {"field": "upper"}}},
  {"mark": {"type": "bar", "stroke": "#333333", "strokeWidth": 1.3}, "encoding": {"y": {"field": "q1", "type": "quantitative"}, "y2": {"field": "q3"}, "color": {"field": "group", "type": "nominal", "scale": {"domain": ["G1", "G2"], "range": ["#7cbbe6", "#efc000"]}, "legend": null}}},
  {"mark": {"type": "tick", "color": "#2a2a2a", "thickness": 3, "size": 52}, "encoding": {"y": {"field": "median", "type": "quantitative"}}}
 ]},
{"title": "SM(d44:1)/LPC(O-20:2)", "width": 138, "height": 88, "data": {"name": "boxes"}, "transform": [{"filter": "datum.panel === 'SM(d44:1)/LPC(O-20:2)'"}],
 "encoding": {"x": {"field": "group", "type": "nominal", "sort": ["G1", "G2"], "scale": {"paddingInner": 0, "paddingOuter": 0.31}, "axis": {"title": null, "labels": false, "ticks": false}}},
 "layer": [
  {"mark": {"type": "rule", "color": "#333333", "strokeWidth": 1.3}, "encoding": {"y": {"field": "lower", "type": "quantitative", "scale": {"domain": [-0.10, 1.84], "nice": false, "zero": false}, "axis": {"values": [0.0, 0.5, 1.0, 1.5], "format": ".1f", "title": null}}, "y2": {"field": "upper"}}},
  {"mark": {"type": "bar", "stroke": "#333333", "strokeWidth": 1.3}, "encoding": {"y": {"field": "q1", "type": "quantitative"}, "y2": {"field": "q3"}, "color": {"field": "group", "type": "nominal", "scale": {"domain": ["G1", "G2"], "range": ["#7cbbe6", "#efc000"]}, "legend": null}}},
  {"mark": {"type": "tick", "color": "#2a2a2a", "thickness": 3, "size": 52}, "encoding": {"y": {"field": "median", "type": "quantitative"}}}
 ]},
{"title": "SM(d44:1)/PS(40:4) [M+OOH]-", "width": 138, "height": 88, "data": {"name": "boxes"}, "transform": [{"filter": "datum.panel === 'SM(d44:1)/PS(40:4) [M+OOH]-'"}],
 "encoding": {"x": {"field": "group", "type": "nominal", "sort": ["G1", "G2"], "scale": {"paddingInner": 0, "paddingOuter": 0.31}, "axis": {"title": null, "labels": false, "ticks": false}}},
 "layer": [
  {"mark": {"type": "rule", "color": "#333333", "strokeWidth": 1.3}, "encoding": {"y": {"field": "lower", "type": "quantitative", "scale": {"domain": [-1.36, -0.18], "nice": false, "zero": false}, "axis": {"values": [-1.0, -0.5], "format": ".1f", "title": null}}, "y2": {"field": "upper"}}},
  {"mark": {"type": "bar", "stroke": "#333333", "strokeWidth": 1.3}, "encoding": {"y": {"field": "q1", "type": "quantitative"}, "y2": {"field": "q3"}, "color": {"field": "group", "type": "nominal", "scale": {"domain": ["G1", "G2"], "range": ["#7cbbe6", "#efc000"]}, "legend": null}}},
  {"mark": {"type": "tick", "color": "#2a2a2a", "thickness": 3, "size": 52}, "encoding": {"y": {"field": "median", "type": "quantitative"}}}
 ]},
{"title": "SM(d44:1)/PS(42:5) [M+OOH]-", "width": 138, "height": 88, "data": {"name": "boxes"}, "transform": [{"filter": "datum.panel === 'SM(d44:1)/PS(42:5) [M+OOH]-'"}],
 "encoding": {"x": {"field": "group", "type": "nominal", "sort": ["G1", "G2"], "scale": {"paddingInner": 0, "paddingOuter": 0.31}, "axis": {"title": null, "labels": false, "ticks": false}}},
 "layer": [
  {"mark": {"type": "rule", "color": "#333333", "strokeWidth": 1.3}, "encoding": {"y": {"field": "lower", "type": "quantitative", "scale": {"domain": [-0.79, 0.49], "nice": false, "zero": false}, "axis": {"values": [-0.75, -0.5, -0.25, 0.0, 0.25], "format": ".2f", "title": null}}, "y2": {"field": "upper"}}},
  {"mark": {"type": "bar", "stroke": "#333333", "strokeWidth": 1.3}, "encoding": {"y": {"field": "q1", "type": "quantitative"}, "y2": {"field": "q3"}, "color": {"field": "group", "type": "nominal", "scale": {"domain": ["G1", "G2"], "range": ["#7cbbe6", "#efc000"]}, "legend": null}}},
  {"mark": {"type": "tick", "color": "#2a2a2a", "thickness": 3, "size": 52}, "encoding": {"y": {"field": "median", "type": "quantitative"}}}
 ]}
]
}
]
}
],
"columns": 1,
"align": "none",
"spacing": 25,
"resolve": {"scale": {"color": "independent"}, "legend": {"color": "independent"}},
"config": {
 "font": "Liberation Sans",
 "view": {"stroke": null},
 "axis": {"grid": false, "labelOverlap": false, "labelFont": "Liberation Sans", "titleFont": "Liberation Sans", "titleFontWeight": "bold", "titleColor": "black", "domainColor": "black", "domainWidth": 1.3, "tickColor": "#333333", "tickSize": 3, "labelFontSize": 9.5, "labelColor": "#4d4d4d", "labelPadding": 2},
 "title": {"font": "Liberation Sans", "fontSize": 9.5, "fontWeight": "bold", "color": "black", "offset": 3},
 "legend": {"labelFont": "Liberation Sans", "titleFont": "Liberation Sans"},
 "text": {"font": "Liberation Sans"}
}
}
